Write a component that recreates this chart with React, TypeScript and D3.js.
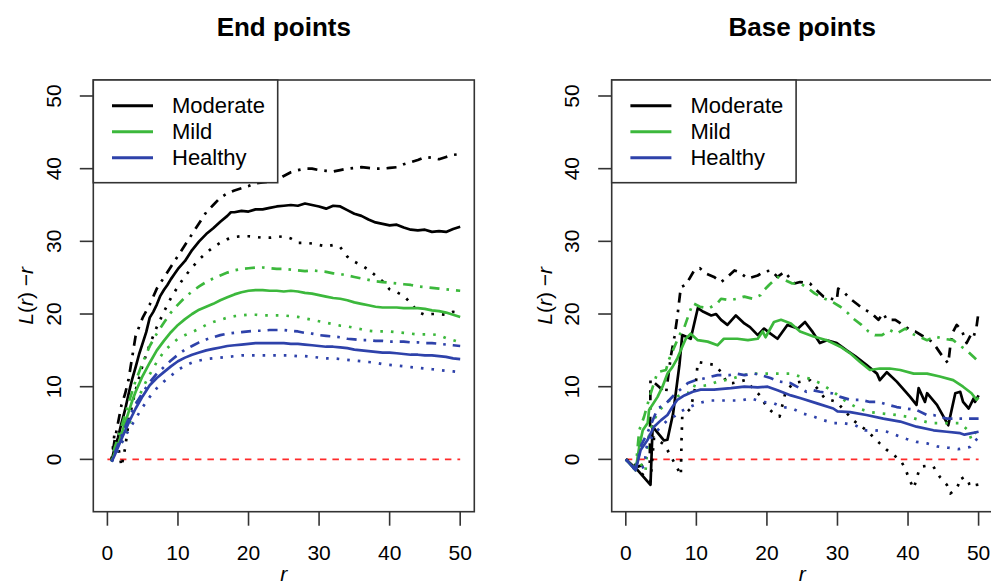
import React from "react";
import * as d3 from "d3";

type P = [number, number];

// ---------- data: End points ----------
const endModMean: P[] = [[0.6,-0.2],[1,1.5],[1.5,3],[2,5],[2.5,6.8],[3,9],[3.5,11],[4,12.7],[4.5,14.5],[5,16],[5.5,17.5],[6,19.5],[6.5,20.3],[7,21.3],[7.5,22.5],[8,23.3],[8.5,24],[9,24.8],[9.5,25.5],[10,26.2],[11,27.3],[12,28.8],[13,30],[14,31],[15,31.8],[16,32.7],[17,33.5],[17.5,34],[18,34],[19,34.2],[20,34.1],[21,34.4],[22,34.4],[23,34.6],[24,34.8],[25,34.9],[26,35],[27,34.9],[28,35.2],[29,35],[30,34.8],[31,34.5],[32,34.9],[33,34.8],[34,34.3],[35,33.8],[36,33.5],[37,33],[38,32.6],[39,32.4],[40,32.2],[41,32.3],[42,31.9],[43,31.6],[44,31.5],[45,31.6],[46,31.3],[47,31.4],[48,31.3],[49,31.7],[50,32]];
const endModUpper: P[] = [[0.6,0],[1,2.5],[1.5,5],[2,7.5],[2.5,9],[3,11],[3.5,14],[4,17],[5,19.5],[6,21.3],[7,23.5],[8,25],[9,26.5],[10,28],[11,29.5],[12,31],[13,32.5],[14,34],[15,35],[16,36],[17,36.6],[18,37],[19,37.3],[20,37.6],[21,38],[22,38.1],[23,38.2],[24,38.4],[25,39],[26,39.5],[27,39.8],[28,40],[29,40],[30,39.8],[31,39.7],[32,39.6],[33,39.8],[34,40],[35,40.1],[36,40.2],[37,40.1],[38,40],[39,40],[40,40.1],[41,40.2],[42,40.6],[43,40.9],[44,41.2],[45,41.6],[46,41.5],[47,41.3],[48,41.6],[49,41.9],[50,42]];
const endModLower: P[] = [[0.6,0],[1,3.5],[1.5,2],[2,-1],[2.5,1.5],[3,5],[3.5,7.5],[4,9.5],[5,13],[6,15.8],[7,18.2],[8,20.3],[9,22.2],[10,23.8],[11,25.2],[12,26.4],[13,27.5],[14,28.4],[15,29.2],[16,29.8],[17,30.3],[18,30.6],[19,30.7],[20,30.7],[21,30.6],[22,30.5],[23,30.5],[24,30.6],[25,30.7],[26,30.4],[27,29.8],[28,29.8],[29,29.7],[30,29.5],[31,29.3],[32,29.5],[33,29.2],[34,27.9],[35,27.2],[36,26.7],[37,26.1],[38,25.3],[39,24.5],[40,23.4],[41,23],[42,22.5],[43,21.5],[44,20.3],[45,19.9],[46,20],[47,20],[48,19.9],[49,20.3],[50,20.2]];
const endMildMean: P[] = [[0.6,-0.3],[1,0.8],[1.5,2],[2,3.5],[2.5,5],[3,6.5],[3.5,8],[4,9.3],[5,11.5],[6,13.3],[7,15],[8,16.3],[9,17.5],[10,18.5],[11,19.3],[12,20],[13,20.6],[14,21],[15,21.4],[16,21.9],[17,22.3],[18,22.7],[19,23],[20,23.2],[21,23.3],[22,23.3],[23,23.2],[24,23.2],[25,23.1],[26,23.2],[27,23.1],[28,22.9],[29,22.8],[30,22.6],[31,22.4],[32,22.2],[33,22.1],[34,21.9],[35,21.6],[36,21.4],[37,21.2],[38,21],[39,20.9],[40,20.9],[41,20.9],[42,20.8],[43,20.8],[44,20.8],[45,20.7],[46,20.5],[47,20.4],[48,20.2],[49,19.9],[50,19.6]];
const endMildUpper: P[] = [[0.6,-0.2],[1,1.5],[2,4.5],[3,7.8],[4,10.8],[5,13.3],[6,15.6],[7,17.3],[8,18.8],[9,20.2],[10,21.3],[11,22.3],[12,23.1],[13,23.8],[14,24.4],[15,24.9],[16,25.3],[17,25.7],[18,26],[19,26.2],[20,26.3],[21,26.4],[22,26.4],[23,26.3],[24,26.2],[25,26.2],[26,26.1],[27,26],[28,25.9],[29,26],[30,25.9],[31,25.8],[32,25.6],[33,25.5],[34,25.3],[35,25.1],[36,24.9],[37,24.7],[38,24.5],[39,24.4],[40,24.3],[41,24.2],[42,24.1],[43,24],[44,23.8],[45,23.7],[46,23.6],[47,23.5],[48,23.4],[49,23.3],[50,23.2]];
const endMildLower: P[] = [[0.6,-0.3],[1,0.5],[2,2.3],[3,4.5],[4,7.5],[5,9.8],[6,11.7],[7,13.4],[8,14.8],[9,15.8],[10,16.6],[11,17.1],[12,17.5],[13,18],[14,18.5],[15,18.9],[16,19.2],[17,19.5],[18,19.7],[19,19.8],[20,19.9],[21,19.9],[22,19.8],[23,19.8],[24,19.8],[25,19.8],[26,19.7],[27,19.6],[28,19.4],[29,19.2],[30,19],[31,18.8],[32,18.6],[33,18.4],[34,18.3],[35,18.1],[36,17.9],[37,17.7],[38,17.6],[39,17.6],[40,17.6],[41,17.5],[42,17.4],[43,17.3],[44,17.2],[45,17.2],[46,17.2],[47,17.1],[48,16.7],[49,16.4],[50,16.1]];
const endHealthyMean: P[] = [[0.6,-0.3],[1,0.5],[2,2.8],[3,5],[4,7],[5,8.7],[6,10.2],[7,11.2],[8,12],[9,12.8],[10,13.5],[11,14],[12,14.4],[13,14.7],[14,15],[15,15.2],[16,15.4],[17,15.6],[18,15.7],[19,15.8],[20,15.9],[21,16],[22,16],[23,16],[24,16],[25,16],[26,15.9],[27,15.9],[28,15.8],[29,15.7],[30,15.6],[31,15.5],[32,15.5],[33,15.4],[34,15.3],[35,15.1],[36,15],[37,14.9],[38,14.8],[39,14.7],[40,14.7],[41,14.6],[42,14.5],[43,14.4],[44,14.4],[45,14.3],[46,14.3],[47,14.2],[48,14.1],[49,13.9],[50,13.8]];
const endHealthyUpper: P[] = [[0.6,-0.3],[1,0.8],[2,3.2],[3,5.6],[4,7.6],[5,9.2],[6,10.6],[7,11.8],[8,12.7],[9,13.6],[10,14.4],[11,15.1],[12,15.6],[13,16.1],[14,16.5],[15,16.8],[16,17.1],[17,17.3],[18,17.4],[19,17.5],[20,17.6],[21,17.7],[22,17.7],[23,17.8],[24,17.8],[25,17.8],[26,17.7],[27,17.6],[28,17.4],[29,17.3],[30,17.1],[31,17],[32,16.9],[33,16.8],[34,16.6],[35,16.5],[36,16.4],[37,16.4],[38,16.3],[39,16.3],[40,16.2],[41,16.2],[42,16.2],[43,16.1],[44,16.1],[45,16],[46,16],[47,15.9],[48,15.8],[49,15.7],[50,15.6]];
const endHealthyLower: P[] = [[0.6,-0.3],[1,0.3],[2,2.2],[3,4],[4,5.6],[5,7.2],[6,8.6],[7,9.8],[8,10.7],[9,11.5],[10,12.3],[11,12.9],[12,13.3],[13,13.6],[14,13.8],[15,13.9],[16,14],[17,14.1],[18,14.2],[19,14.3],[20,14.3],[21,14.3],[22,14.3],[23,14.3],[24,14.3],[25,14.3],[26,14.3],[27,14.2],[28,14.2],[29,14.1],[30,14],[31,13.9],[32,13.9],[33,13.8],[34,13.7],[35,13.6],[36,13.5],[37,13.4],[38,13.3],[39,13.1],[40,13],[41,12.9],[42,12.8],[43,12.7],[44,12.6],[45,12.5],[46,12.4],[47,12.3],[48,12.2],[49,12.1],[50,12]];

// ---------- data: Base points ----------
const baseModMean: P[] = [[0,0],[1.7,-1.5],[3.5,-3.5],[3.8,4.5],[5.4,2.6],[5.9,2.7],[6.7,6.3],[7.2,10],[7.6,13],[8,17.1],[9.2,16.6],[10.2,20.8],[11,20.3],[12.1,19.8],[12.8,20],[13.5,19.2],[14.4,18.5],[15.6,19.8],[16.8,18.7],[17.6,18.2],[18.7,17.1],[19.6,18],[20.5,17.3],[21.5,16.6],[22.9,18.5],[24.4,18],[25.4,18.9],[26.5,17.5],[27.5,16],[28.5,16.4],[29.9,16],[31.3,15],[32.5,14.2],[34.1,13],[35.6,11.8],[36,10.9],[37,12],[38.4,10.7],[40.3,8.6],[41.2,7.5],[41.5,9.8],[42.4,7.9],[42.7,9.1],[44.1,7.5],[45.7,4.7],[46.7,9.1],[47.4,9.3],[47.8,7.9],[48.6,7],[49.3,8.4],[49.5,7.9],[50,8.8]];
const baseModUpper: P[] = [[0,0],[1.7,-1],[3.4,-0.5],[3.5,11],[4.7,10],[5.7,9.1],[6.4,14.3],[6.9,16.9],[7.3,19.6],[7.8,23.7],[8.5,24],[9.7,26],[10.5,26.3],[11.3,25.6],[12.5,25.1],[13.5,24.4],[14.4,25.1],[15.4,26],[16,25.8],[17.3,24.9],[18.7,25.3],[19.5,25.8],[20.6,26],[21.5,25.1],[22.5,25.8],[23.9,24.2],[24.7,24.4],[26.1,24.2],[26.8,23.5],[28,22.4],[29.9,21.9],[30.1,23.5],[31.1,22.8],[31.8,22.1],[33,21.2],[34.1,20.5],[34.8,20.1],[35.8,19.2],[36.5,20.1],[37,19.2],[38.2,19.2],[39.3,18.5],[40.3,17.8],[41,17.6],[42.2,16.9],[42.9,16.6],[43.8,15.7],[44.8,14.3],[45.7,13.2],[46,15.7],[46.4,17.6],[46.9,18.5],[47.6,17.8],[48.3,16],[49,17.3],[49.3,16.9],[49.7,18.2],[50,20.3]];
const baseModLower: P[] = [[0,0],[1.7,-1.5],[3.5,-3],[4,3],[5.5,2],[7.3,-1.2],[7.8,-2.2],[7.9,2.7],[8,5.9],[9.2,7],[9.9,10.2],[10.2,13.4],[11.4,13.2],[12.6,13],[13.7,11.8],[14.3,10.5],[15.2,10.5],[16.9,10.9],[19,8.8],[20,7.2],[20.9,6.4],[21.8,5.9],[22.6,9.1],[23.7,10.5],[24.9,10.7],[26.1,10.9],[27.1,9.8],[28.2,8.4],[29.9,7.9],[32.2,5.4],[34.1,4],[36,2.2],[37,1.3],[38.9,-0.1],[39.6,-1.2],[40.1,-2.6],[40.8,-4],[41.5,-1.7],[41.9,-1],[42.6,-0.9],[43.6,-1],[44.5,-2.4],[45.5,-3.5],[46,-4.7],[46.9,-4],[47.6,-2.4],[48.3,-3.5],[48.8,-3.3],[49.7,-3.1],[50,-4.7]];
const baseMildMean: P[] = [[0,0],[1.4,-1.5],[1.9,1.7],[2.4,4],[3.1,5],[3.3,6.8],[4.5,8.6],[5.2,10],[5.9,11.8],[6.6,12.7],[7.3,13.9],[8,15.5],[8.5,16.6],[9.2,17.3],[10.2,16.4],[11.6,16.2],[13,15.7],[13.9,16.6],[15.8,16.6],[17.3,16.4],[18.7,16.6],[19.4,17.6],[19.8,16.8],[21,18.9],[22,19.2],[23.4,18.7],[24.7,17.6],[26.6,16.9],[28.5,16.4],[30.4,15.5],[31.8,14.6],[33.2,13.4],[34.6,12.3],[36,12.5],[37.4,12.5],[38.9,12.3],[40.8,11.8],[42.7,11.8],[44.5,11.4],[46.4,10.9],[47.8,10],[49,9.1],[49.7,8.2],[50,8.5]];
const baseMildUpper: P[] = [[0,0],[1.4,-1.3],[1.9,4],[2.6,5.9],[3.5,9],[4.5,12],[5.7,12.3],[6.1,13.7],[7.6,17.1],[8.3,18.2],[9.5,21.5],[10.5,21],[11.8,20.8],[13,21.5],[13.5,22.1],[14.7,21.9],[15.8,22.1],[16.8,22.4],[18,22.1],[19.1,22.6],[19.6,23.3],[20.3,24],[21.5,25.1],[22.5,24.7],[23.6,24.2],[24.7,24.2],[25.6,23.7],[26.8,22.8],[28.2,22.1],[29.2,21.7],[30.4,21],[31.5,20.1],[32.2,19.4],[33.4,18.5],[34.4,17.6],[35.3,17.1],[36.3,17.1],[37.4,17.8],[38.4,17.3],[39.6,18],[40.5,17.3],[41.5,16.9],[42.7,16.4],[43.8,16.9],[45,16.6],[46.4,16.4],[47.6,15.5],[48.3,15],[49.5,13.9],[50,13.5]];
const baseMildLower: P[] = [[0,0],[1.4,-1.5],[2.4,-0.6],[2.8,-1.5],[3.2,3],[4,5.5],[5,7],[6,8],[7,8.5],[8,9],[8.8,9.1],[9.5,10.2],[10,10],[11.6,10.2],[13,10.7],[14.7,11],[16,11.4],[17.6,11.8],[20,11.8],[21.4,11.8],[23.3,11.8],[24.7,11.4],[26.1,11.1],[27.5,10.5],[29.4,9.3],[31.3,7.9],[33,7],[34.6,6.5],[36.5,6.3],[38.4,6.1],[40.3,5.8],[41.7,5.4],[43.1,5],[45.5,5],[47.4,5],[48.5,4],[49,2.7],[49.5,3.6],[50,4.5]];
const baseHealthyMean: P[] = [[0,0],[1.4,-1.5],[2.1,1.3],[3.1,2.7],[4,4.5],[5,5.4],[5.9,6.1],[6.6,7.2],[7.3,8.2],[8.3,8.8],[9.5,9.3],[10.6,9.6],[12.5,9.6],[14.9,9.8],[16.8,10],[18.7,9.9],[20.1,10],[21.5,9.5],[23.4,8.8],[24.8,8.4],[27.1,7.7],[29.4,7],[30,6.6],[31.8,6.5],[34.1,6.1],[36.5,5.6],[38.9,5.2],[41.2,4.5],[43.6,4],[45.5,3.8],[47.4,3.6],[48,3.4],[50,3.8]];
const baseHealthyUpper: P[] = [[0,0],[1.4,-1.3],[2.2,2],[3,3.5],[4.3,6.5],[4.5,7],[5.5,7.5],[7.1,9.1],[7.6,9.5],[8.8,10.5],[9.9,10.9],[10.9,11.1],[13,11.6],[14.7,11.6],[15.6,11.8],[16.8,11.6],[18.2,11.8],[19.1,11.6],[20.5,11.2],[21.8,10.7],[23.3,10.5],[25.6,9.3],[26.6,9.5],[27.5,9.3],[29.2,9.1],[30.4,8.6],[31.8,8.2],[33.2,8.2],[34.6,7.9],[35.8,7.9],[37.2,7.5],[38.4,7.2],[39.6,7],[41.2,6.8],[42.7,6.1],[43.6,6.1],[45.5,5.6],[46.7,5.6],[47.8,5.6],[49.5,5.6],[50,5.6]];
const baseHealthyLower: P[] = [[0,0],[1.4,-1.5],[2.6,-1],[3,2],[4,3.5],[5,4.5],[6,5.5],[7,6],[7.6,6.5],[9,7.2],[10.2,7.7],[11.8,8.1],[13.2,8.1],[14.7,8.1],[16.3,8.1],[17.7,8.4],[19.4,7.9],[20.8,7.8],[22.2,7.2],[23.6,7],[25.1,6.3],[26.6,5.9],[28,5.4],[29.4,5],[30.8,5],[32.5,4.7],[33.9,4],[35.3,4],[37,3.8],[38.4,3.3],[39.8,2.8],[41.2,2.4],[42.7,2.2],[44.1,1.8],[45.7,1.6],[47.1,1.4],[48.8,1.7],[49.3,2.4],[50,3]];

const xTicks = [0, 10, 20, 30, 40, 50];
const yTicks = [0, 10, 20, 30, 40, 50];
const groups = ["Moderate", "Mild", "Healthy"];
const groupColors = ["#000000", "#3cb83c", "#2e42aa"];
const titles = ["End points", "Base points"];

const panelSeries: P[][][] = [
  [
    [endModMean, endModUpper, endModLower],
    [endMildMean, endMildUpper, endMildLower],
    [endHealthyMean, endHealthyUpper, endHealthyLower],
  ],
  [
    [baseModMean, baseModUpper, baseModLower],
    [baseMildMean, baseMildUpper, baseMildLower],
    [baseHealthyMean, baseHealthyUpper, baseHealthyLower],
  ],
];

const FONT = "'Liberation Sans', Arial, Helvetica, sans-serif";
const dashes = [null, "2.6 7 10 7", "2.6 8"];

function Panel({ idx, left }: { idx: number; left: number }) {
  const top = 80;
  const bottom = 511.7;
  const width = 381;
  const right = left + width;
  const x = d3.scaleLinear().domain([-2, 52]).range([left, right]);
  const y = d3.scaleLinear().domain([-7.2, 52.2]).range([bottom, top]);
  const line = d3
    .line<P>()
    .x((d) => x(d[0]))
    .y((d) => y(d[1]));
  const clipId = `clip${idx}`;
  const cx = (left + right) / 2;
  const cy = (top + bottom) / 2;
  return (
    <g>
      <defs>
        <clipPath id={clipId}>
          <rect x={left} y={top} width={width} height={bottom - top} />
        </clipPath>
      </defs>
      <text x={cx} y={36} textAnchor="middle" fontSize={26} fontWeight="bold" fontFamily={FONT}>
        {titles[idx]}
      </text>
      <g clipPath={`url(#${clipId})`}>
        <line x1={x(0)} x2={x(50)} y1={y(0)} y2={y(0)} stroke="#ff2a2a" strokeWidth={1.6} strokeDasharray="6.5 6" />
        {panelSeries[idx].map((grp, gi) =>
          grp.map((s, si) => (
            <path
              key={`${gi}-${si}`}
              d={line(s) || ""}
              fill="none"
              stroke={groupColors[gi]}
              strokeWidth={2.7}
              strokeDasharray={dashes[si] || undefined}
              strokeLinejoin="round"
            />
          ))
        )}
      </g>
      <rect x={left} y={top} width={width} height={bottom - top} fill="none" stroke="#333" strokeWidth={1.6} />
      {xTicks.map((t) => (
        <g key={`xt${t}`}>
          <line x1={x(t)} x2={x(t)} y1={bottom} y2={bottom + 14} stroke="#333" strokeWidth={1.6} />
          <text x={x(t)} y={bottom + 48.5} textAnchor="middle" fontSize={21} fontFamily={FONT}>
            {t}
          </text>
        </g>
      ))}
      {yTicks.map((t) => (
        <g key={`yt${t}`}>
          <line x1={left - 13.5} x2={left} y1={y(t)} y2={y(t)} stroke="#333" strokeWidth={1.6} />
          <text
            transform={`translate(${left - 40},${y(t)}) rotate(-90)`}
            textAnchor="middle"
            dominantBaseline="central"
            fontSize={21}
            fontFamily={FONT}
          >
            {t}
          </text>
        </g>
      ))}
      <text x={cx} y={581} textAnchor="middle" fontSize={21} fontStyle="italic" fontFamily={FONT}>
        r
      </text>
      <text
        transform={`translate(${left - 68},${cy}) rotate(-90)`}
        textAnchor="middle"
        dominantBaseline="central"
        fontSize={21}
        fontFamily={FONT}
      >
        <tspan fontStyle="italic">L</tspan>
        <tspan>(</tspan>
        <tspan fontStyle="italic">r</tspan>
        <tspan>)  −</tspan>
        <tspan fontStyle="italic">r</tspan>
      </text>
      <rect x={left} y={top} width={184.4} height={102.7} fill="white" stroke="#333" strokeWidth={1.6} />
      {groups.map((g, i) => {
        const ly = 105.7 + i * 26;
        return (
          <g key={g}>
            <line x1={left + 18.7} x2={left + 59.7} y1={ly} y2={ly} stroke={groupColors[i]} strokeWidth={3} />
            <text x={left + 78.7} y={ly} dominantBaseline="central" fontSize={22} fontFamily={FONT}>
              {g}
            </text>
          </g>
        );
      })}
    </g>
  );
}

export default function App() {
  return (
    <svg
      width={991}
      height={587}
      viewBox="0 0 991 587"
      style={{ position: "absolute", left: 0, top: 0, background: "white" }}
    >
      <rect x={0} y={0} width={991} height={587} fill="white" />
      <Panel idx={0} left={93.3} />
      <Panel idx={1} left={611.7} />
    </svg>
  );
}
